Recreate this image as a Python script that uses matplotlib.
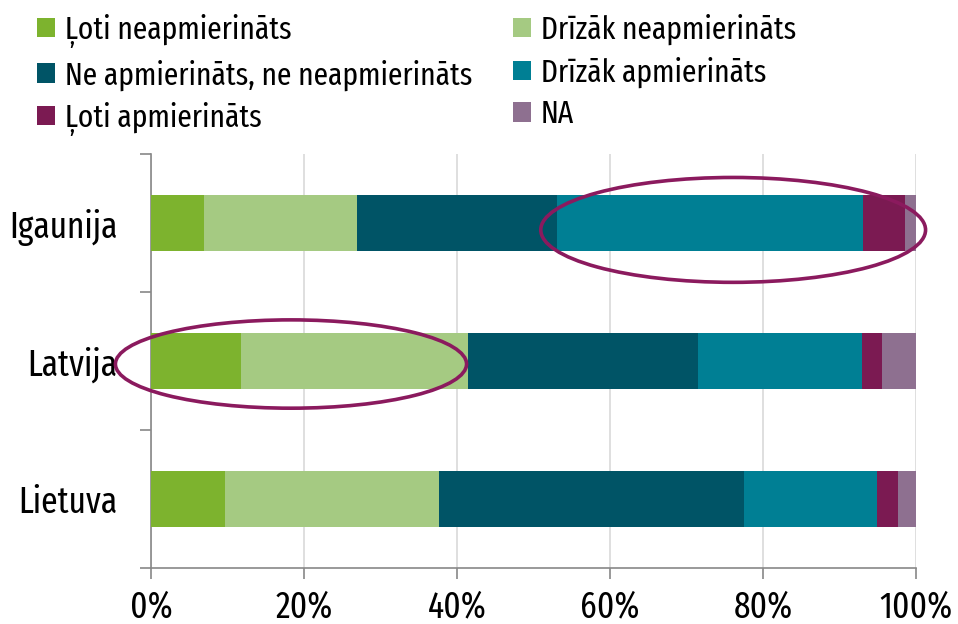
import matplotlib
matplotlib.use("Agg")
import matplotlib.pyplot as plt
from matplotlib.patches import Ellipse, Patch
from matplotlib.ticker import FuncFormatter
import numpy as np

plt.rcParams['font.family'] = ['Fira Sans Extra Condensed', 'DejaVu Sans']

countries = ["Lietuva", "Latvija", "Igaunija"]
series_names = ["Ļoti neapmierināts", "Drīzāk neapmierināts",
                "Ne apmierināts, ne neapmierināts", "Drīzāk apmierināts",
                "Ļoti apmierināts", "NA"]
loti_neapm = [9.7, 11.8, 6.9]
drizak_neapm = [28.0, 29.6, 20.0]
ne_ne = [39.8, 30.1, 26.2]
drizak_apm = [17.4, 21.4, 40.0]
loti_apm = [2.8, 2.7, 5.5]
na = [2.3, 4.4, 1.4]
colors = ["#7DB32E", "#A5CA82", "#005466", "#007F94", "#7B1A52", "#8E7090"]

series = [loti_neapm, drizak_neapm, ne_ne, drizak_apm, loti_apm, na]

fig = plt.figure(figsize=(9.58, 6.24), dpi=100)
ax = fig.add_axes([151/958, 1-568/624, 765/958, 414/624])

y = np.arange(len(countries))
left = np.zeros(len(countries))
handles = []
for vals, c, name in zip(series, colors, series_names):
    ax.barh(y, vals, left=left, height=0.4, color=c, zorder=3)
    left += np.array(vals)
    handles.append(Patch(facecolor=c, label=name))

ax.set_xlim(0, 100)
ax.set_ylim(-0.5, 2.5)
ax.set_xticks([0, 20, 40, 60, 80, 100])
ax.xaxis.set_major_formatter(FuncFormatter(lambda v, p: f"{int(v)}%"))
ax.set_yticks(y)
ax.set_yticklabels(countries)
ax.set_yticks([-0.5, 0.5, 1.5, 2.5], minor=True)
ax.tick_params(axis='y', which='major', length=0, pad=24, labelsize=26)
ax.tick_params(axis='y', which='minor', length=8, color='#888888', width=1.2)
ax.tick_params(axis='x', length=8, color='#888888', width=1.2, labelsize=26, pad=7)
ax.grid(axis='x', color='#D9D9D9', linewidth=1.2, zorder=0)
for s in ['top', 'right']:
    ax.spines[s].set_visible(False)
ax.spines['left'].set_color('#888888')
ax.spines['bottom'].set_color('#888888')
ax.spines['left'].set_linewidth(1.2)
ax.spines['bottom'].set_linewidth(1.2)

ec = "#8B1A5E"
ax.add_patch(Ellipse((76.1, 1.95), 50.3, 0.76, angle=0, fill=False,
                     edgecolor=ec, linewidth=2.6, zorder=5, clip_on=False))
ax.add_patch(Ellipse((18.3, 0.978), 45.9, 0.64, angle=0, fill=False,
                     edgecolor=ec, linewidth=2.6, zorder=5, clip_on=False))

order = [0, 2, 4, 1, 3, 5]
fig.legend([handles[i] for i in order], [series_names[i] for i in order],
           ncol=2, loc='upper left', bbox_to_anchor=(0.009, 1.024),
           frameon=False, fontsize=23, handlelength=0.55, handleheight=0.55,
           handletextpad=0.3, columnspacing=1.3, labelspacing=0.36)

fig.savefig("out.png", dpi=100)
